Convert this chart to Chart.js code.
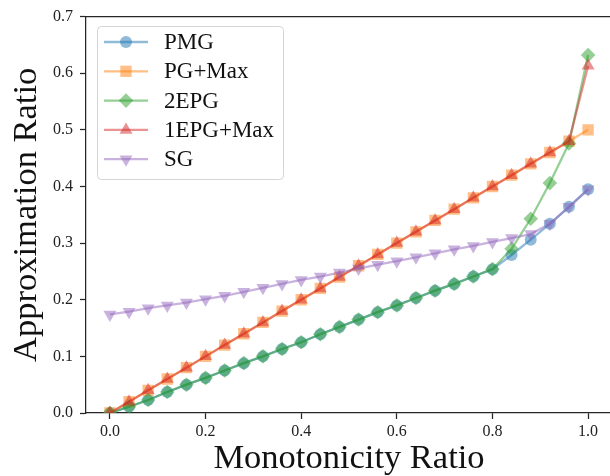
<!DOCTYPE html>
<html>
<head>
<meta charset="utf-8">
<script src="https://cdn.jsdelivr.net/npm/chart.js@4/dist/chart.umd.min.js"></script>
<style>
  html, body { margin: 0; padding: 0; background: #fff; overflow: hidden; }
  #wrap { width: 610px; height: 476px; overflow: hidden; }
</style>
</head>
<body>
<div id="wrap"><canvas id="myChart" width="620" height="476"></canvas></div>
<script>
// monotonicity ratio on the x axis
const ratios = [0, 0.04, 0.08, 0.12, 0.16, 0.2, 0.24, 0.28, 0.32, 0.36, 0.4, 0.44, 0.48,
    0.52, 0.56, 0.6, 0.64, 0.68, 0.72, 0.76, 0.8, 0.84, 0.88, 0.92, 0.96, 1.0];

const pmg = [0, 0.011, 0.023, 0.037, 0.050, 0.062, 0.075, 0.088, 0.100, 0.113, 0.125, 0.139,
    0.152, 0.165, 0.178, 0.190, 0.203, 0.216, 0.228, 0.241, 0.254, 0.279, 0.306, 0.334, 0.364, 0.395];
const pgMax = [0, 0.02, 0.04, 0.06, 0.08, 0.10, 0.12, 0.14, 0.16, 0.18, 0.20, 0.22, 0.24,
    0.26, 0.28, 0.30, 0.32, 0.34, 0.36, 0.38, 0.40, 0.42, 0.44, 0.46, 0.48, 0.50];
const twoEpg = [0, 0.011, 0.023, 0.037, 0.050, 0.062, 0.075, 0.088, 0.100, 0.113, 0.125, 0.139,
    0.152, 0.165, 0.178, 0.190, 0.203, 0.216, 0.228, 0.241, 0.254, 0.290, 0.343, 0.406, 0.476, 0.632];
const oneEpgMax = [0, 0.02, 0.04, 0.06, 0.08, 0.10, 0.12, 0.14, 0.16, 0.18, 0.20, 0.22, 0.24,
    0.26, 0.28, 0.30, 0.32, 0.34, 0.36, 0.38, 0.40, 0.42, 0.44, 0.46, 0.48, 0.613];
const sg = [0.174, 0.179, 0.185, 0.190, 0.195, 0.201, 0.207, 0.214, 0.221, 0.228, 0.235, 0.241,
    0.248, 0.255, 0.262, 0.268, 0.275, 0.282, 0.289, 0.295, 0.302, 0.309, 0.316, 0.334, 0.364, 0.395];

const xTicks = [0, 0.2, 0.4, 0.6, 0.8, 1.0];
const yTicks = [0, 0.1, 0.2, 0.3, 0.4, 0.5, 0.6, 0.7];

const serif = "'Liberation Serif', 'DejaVu Serif', serif";

function pts(arr) {
    return arr.map((v, i) => ({ x: ratios[i], y: v }));
}

const series = [
    { label: 'PMG', data: pmg, color: 'rgba(31,119,180,0.5)', style: 'circle', r: 6, rot: 0 },
    { label: 'PG+Max', data: pgMax, color: 'rgba(255,127,14,0.5)', style: 'rect', r: 8, rot: 0 },
    { label: '2EPG', data: twoEpg, color: 'rgba(44,160,44,0.5)', style: 'rectRot', r: 7.3, rot: 0 },
    { label: '1EPG+Max', data: oneEpgMax, color: 'rgba(214,39,40,0.5)', style: 'triangle', r: 7.5, rot: 0 },
    { label: 'SG', data: sg, color: 'rgba(148,103,189,0.5)', style: 'triangle', r: 7.5, rot: 180 }
];

const datasets = series.map((s, i) => ({
    label: s.label,
    data: pts(s.data),
    borderColor: s.color,
    backgroundColor: s.color,
    borderWidth: 2.3,
    pointStyle: s.style,
    pointRadius: s.r,
    pointRotation: s.rot,
    pointBorderWidth: 0,
    pointBackgroundColor: s.color,
    tension: 0,
    clip: 0,
    // first series sits at the bottom, last on top
    order: series.length - i
}));

// frame on top and right plus the legend box
const framePlugin = {
    id: 'frame',
    afterDatasetsDraw(chart) {
        const { ctx, chartArea: a } = chart;
        ctx.save();
        ctx.strokeStyle = '#262626';
        ctx.lineWidth = 1.25;
        ctx.beginPath();
        ctx.moveTo(a.left, a.top);
        ctx.lineTo(a.right, a.top);
        ctx.lineTo(a.right, a.bottom);
        ctx.stroke();

        // legend
        const bx = 97, by = 26, bw = 186, bh = 153;
        ctx.beginPath();
        ctx.roundRect(bx + 0.5, by + 0.5, bw, bh, 4);
        ctx.fillStyle = 'rgba(255,255,255,0.8)';
        ctx.fill();
        ctx.strokeStyle = '#d5d5d5';
        ctx.lineWidth = 1;
        ctx.stroke();

        ctx.font = "23px " + serif;
        ctx.textBaseline = 'middle';
        series.forEach((s, i) => {
            const y = 42 + i * 29.3;
            ctx.strokeStyle = s.color;
            ctx.lineWidth = 2.3;
            ctx.beginPath();
            ctx.moveTo(104, y);
            ctx.lineTo(148, y);
            ctx.stroke();
            ctx.fillStyle = s.color;
            Chart.helpers.drawPoint(ctx, {
                pointStyle: s.style, radius: s.r, rotation: s.rot, borderWidth: 0
            }, 126, y);
            ctx.fillStyle = '#111';
            ctx.fillText(s.label, 164, y + 1);
        });
        ctx.restore();
    }
};

const tickFont = { family: serif, size: 16 };
const titleFont = { family: serif, size: 34.5, lineHeight: 1 };

const myChart = new Chart(document.getElementById('myChart'), {
    type: 'line',
    data: { datasets: datasets },
    options: {
        responsive: false,
        animation: false,
        devicePixelRatio: 1,
        layout: { padding: { top: 15, right: 0, left: 0, bottom: 0 } },
        plugins: { legend: { display: false }, tooltip: { enabled: false } },
        scales: {
            x: {
                type: 'linear',
                min: -0.05,
                max: 1.05,
                afterBuildTicks: (scale) => { scale.ticks = xTicks.map(v => ({ value: v })); },
                afterFit: (scale) => { scale.height = 63; },
                ticks: {
                    font: tickFont, color: '#222', padding: 3, maxRotation: 0,
                    callback: (v) => Number(v).toFixed(1)
                },
                grid: { drawOnChartArea: false, drawTicks: true, tickLength: 6, tickColor: '#262626', tickWidth: 1.25 },
                border: { color: '#262626', width: 1.25 },
                title: { display: true, text: 'Monotonicity Ratio', font: titleFont, color: '#111', padding: { top: 0, bottom: 0 } }
            },
            y: {
                type: 'linear',
                min: 0,
                max: 0.7,
                afterBuildTicks: (scale) => { scale.ticks = yTicks.map(v => ({ value: v })); },
                afterFit: (scale) => { scale.width = 86; },
                ticks: {
                    font: tickFont, color: '#222', padding: 7,
                    callback: (v) => Number(v).toFixed(1)
                },
                grid: { drawOnChartArea: false, drawTicks: true, tickLength: 6, tickColor: '#262626', tickWidth: 1.25 },
                border: { color: '#262626', width: 1.25 },
                title: { display: true, text: 'Approximation Ratio', font: titleFont, color: '#111', padding: { top: 10, bottom: 0 } }
            }
        }
    },
    plugins: [framePlugin]
});
</script>
</body>
</html>
